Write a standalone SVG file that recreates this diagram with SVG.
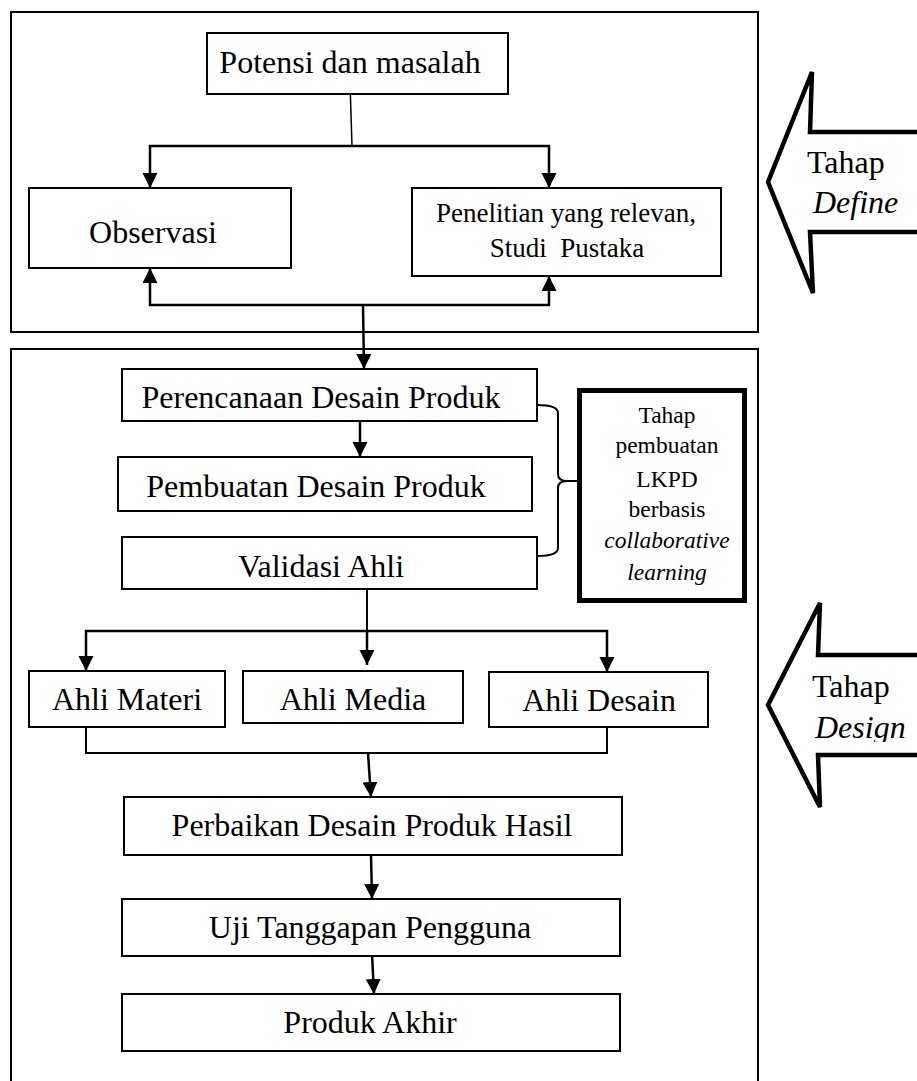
<svg xmlns="http://www.w3.org/2000/svg" width="917" height="1081" viewBox="0 0 917 1081">
<style>
.box{fill:#fff;stroke:#000;stroke-width:2}
.frame{fill:none;stroke:#000;stroke-width:2}
.t{font-family:"Liberation Serif","Times New Roman",serif;font-size:32px;fill:#000;text-anchor:middle}
.s{font-family:"Liberation Serif","Times New Roman",serif;font-size:27px;fill:#000;text-anchor:middle}
.l{font-family:"Liberation Serif","Times New Roman",serif;font-size:23.5px;fill:#000;text-anchor:middle}
.st{font-family:"Liberation Serif","Times New Roman",serif;font-size:32px;fill:#000}
.i{font-style:italic}
.c{fill:none;stroke:#000;stroke-width:2.5}
.big{fill:#fff;stroke:#000;stroke-width:4.5;stroke-linejoin:miter}
</style>
<defs>
<marker id="ah" markerUnits="userSpaceOnUse" markerWidth="16" markerHeight="16" refX="15" refY="7.5" orient="auto">
<path d="M0,0 L15,7.5 L0,15 z" fill="#000"/>
</marker>
<clipPath id="cd"><rect x="780" y="600" width="140" height="142"/></clipPath>
</defs>
<rect width="917" height="1081" fill="#fff"/>
<g id="frame-define"><rect class="frame" x="11" y="12" width="747" height="320"/></g>
<g id="frame-design"><path class="frame" d="M11,1085 L11,349 L758,349 L758,1085"/></g>
<g id="connectors">
<path d="M350,83 L352,146" fill="none" stroke="#000" stroke-width="1.5"/>
<path class="c" d="M352,146 L150,146 L150,188" marker-end="url(#ah)"/>
<path class="c" d="M352,146 L549,146 L549,188" marker-end="url(#ah)"/>
<path class="c" d="M363,305 L150,305 L150,268" marker-end="url(#ah)"/>
<path class="c" d="M363,305 L549,305 L549,276" marker-end="url(#ah)"/>
<path class="c" d="M363,305 L364,369" marker-end="url(#ah)"/>
<path class="c" d="M360,421 L360,457" marker-end="url(#ah)"/>
<path fill="none" stroke="#000" stroke-width="2" d="M537,405 Q558,405 558,413 L558,474 Q558,481 567,481 L580,481 M567,481 Q558,481 558,488 L558,548 Q558,556 537,556"/>
<path fill="none" stroke="#000" stroke-width="2" d="M367,587 L367,631"/>
<path class="c" d="M367,631 L367,665" marker-end="url(#ah)"/>
<path class="c" d="M367,631 L86,631 L86,671" marker-end="url(#ah)"/>
<path class="c" d="M367,631 L607,631 L607,672" marker-end="url(#ah)"/>
<path fill="none" stroke="#000" stroke-width="2" d="M86,716 L86,753 L607,753 L607,720"/>
<path class="c" d="M368,753 L371,797" marker-end="url(#ah)"/>
<path class="c" d="M371,855 L372,899" marker-end="url(#ah)"/>
<path class="c" d="M372,954 L374,994" marker-end="url(#ah)"/>
</g>
<g id="potensi"><rect class="box" x="207" y="33" width="301" height="61"/><text class="t" x="350" y="73">Potensi dan masalah</text></g>
<g id="observasi"><rect class="box" x="29" y="188" width="262" height="80"/><text class="t" x="153" y="243">Observasi</text></g>
<g id="penelitian"><rect class="box" x="412" y="188" width="309" height="88"/><text class="s" x="566" y="222">Penelitian yang relevan,</text><text class="s" x="567" y="257" xml:space="preserve">Studi  Pustaka</text></g>
<g id="arrow-define"><polyline class="big" points="922,132 810,132 812,72 768,182 813,293 810,232 922,232"/><text class="st" x="807" y="173">Tahap</text><text class="st i" x="813" y="213">Define</text></g>
<g id="perencanaan"><rect class="box" x="122" y="369" width="415" height="52"/><text class="t" x="321" y="408">Perencanaan Desain Produk</text></g>
<g id="pembuatan"><rect class="box" x="118" y="457" width="414" height="54"/><text class="t" x="316" y="497">Pembuatan Desain Produk</text></g>
<g id="validasi"><rect class="box" x="122" y="537" width="415" height="52"/><text class="t" x="321" y="577">Validasi Ahli</text></g>
<g id="lkpd"><rect x="579.5" y="390.5" width="165" height="210" fill="#fff" stroke="#000" stroke-width="5"/>
<text class="l" x="667" y="423">Tahap</text><text class="l" x="667" y="453">pembuatan</text><text class="l" x="667" y="487">LKPD</text><text class="l" x="667" y="517">berbasis</text><text class="l i" x="667" y="548">collaborative</text><text class="l i" x="667" y="580">learning</text></g>
<g id="ahli-materi"><rect class="box" x="29" y="671" width="196" height="56"/><text class="t" x="127" y="710">Ahli Materi</text></g>
<g id="ahli-media"><rect class="box" x="243" y="671" width="220" height="52"/><text class="t" x="353" y="710">Ahli Media</text></g>
<g id="ahli-desain"><rect class="box" x="489" y="672" width="219" height="55"/><text class="t" x="599" y="711">Ahli Desain</text></g>
<g id="arrow-design"><polyline class="big" points="922,655 818,655 820,603 768,705 820,807 818,755 922,755"/><text class="st" x="812" y="697">Tahap</text><text class="st i" x="815" y="738" clip-path="url(#cd)">Design</text></g>
<g id="perbaikan"><rect class="box" x="124" y="797" width="498" height="58"/><text class="t" x="372" y="836">Perbaikan Desain Produk Hasil</text></g>
<g id="uji"><rect class="box" x="122" y="899" width="498" height="57"/><text class="t" x="370" y="938">Uji Tanggapan Pengguna</text></g>
<g id="produk-akhir"><rect class="box" x="122" y="994" width="498" height="57"/><text class="t" x="370" y="1033">Produk Akhir</text></g>
</svg>
